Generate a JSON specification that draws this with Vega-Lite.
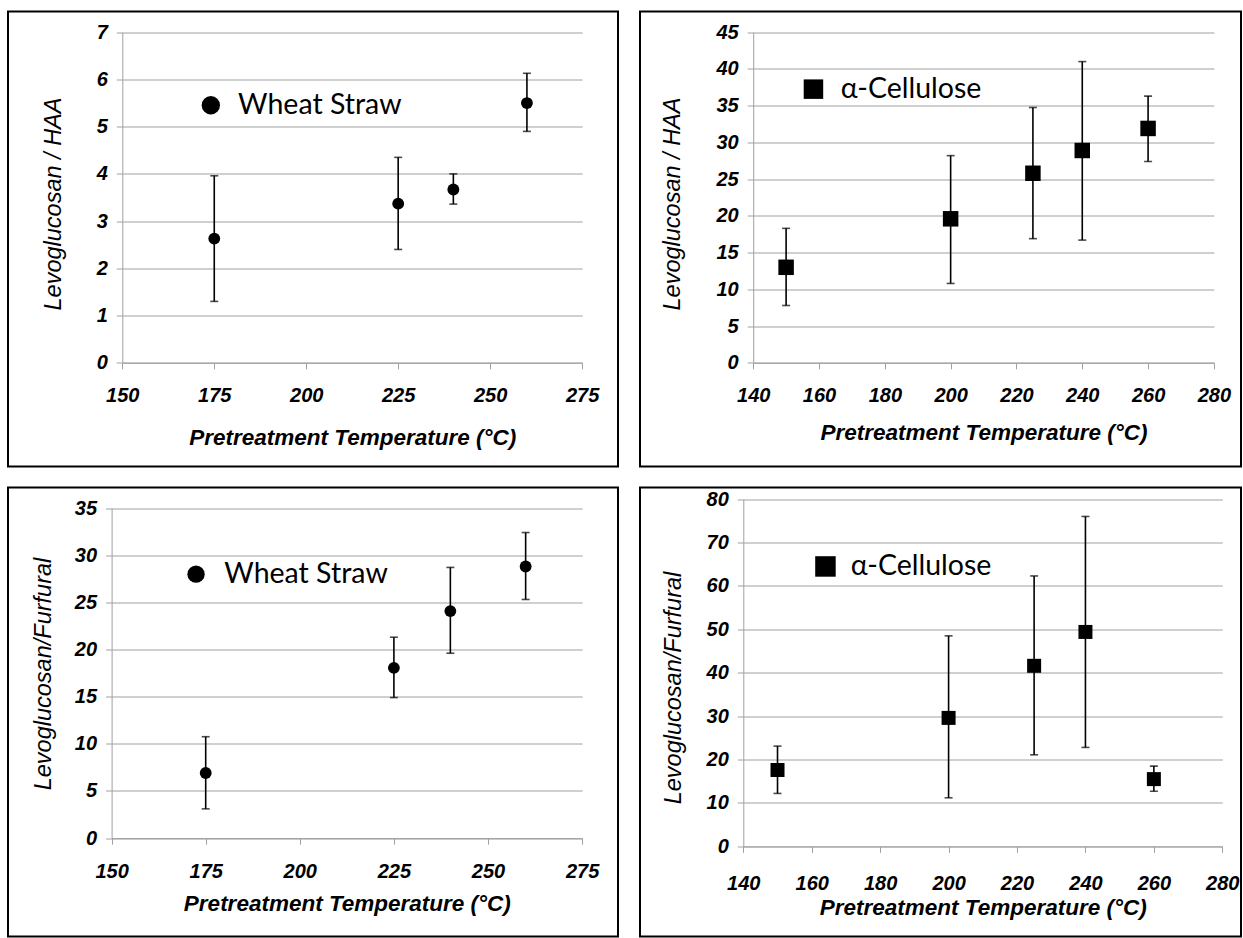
{
  "$schema": "https://vega.github.io/schema/vega-lite/v6.json",
  "padding": {"left": 7, "top": 10.5, "right": 0, "bottom": 0},
  "background": "white",
  "datasets": {
    "ws_haa": [
      {"temp": 175, "value": 2.63, "lo": 1.30, "hi": 3.96, "series": "Wheat Straw"},
      {"temp": 225, "value": 3.37, "lo": 2.40, "hi": 4.35, "series": "Wheat Straw"},
      {"temp": 240, "value": 3.67, "lo": 3.36, "hi": 4.00, "series": "Wheat Straw"},
      {"temp": 260, "value": 5.50, "lo": 4.90, "hi": 6.13, "series": "Wheat Straw"}
    ],
    "ac_haa": [
      {"temp": 150, "value": 13.0, "lo": 7.8, "hi": 18.3, "series": "α-Cellulose"},
      {"temp": 200, "value": 19.6, "lo": 10.8, "hi": 28.2, "series": "α-Cellulose"},
      {"temp": 225, "value": 25.8, "lo": 16.9, "hi": 34.75, "series": "α-Cellulose"},
      {"temp": 240, "value": 28.9, "lo": 16.7, "hi": 41.0, "series": "α-Cellulose"},
      {"temp": 260, "value": 31.9, "lo": 27.4, "hi": 36.3, "series": "α-Cellulose"}
    ],
    "ws_fur": [
      {"temp": 175, "value": 6.9, "lo": 3.1, "hi": 10.75, "series": "Wheat Straw"},
      {"temp": 225, "value": 18.05, "lo": 14.9, "hi": 21.3, "series": "Wheat Straw"},
      {"temp": 240, "value": 24.07, "lo": 19.6, "hi": 28.7, "series": "Wheat Straw"},
      {"temp": 260, "value": 28.8, "lo": 25.3, "hi": 32.4, "series": "Wheat Straw"}
    ],
    "ac_fur": [
      {"temp": 150, "value": 17.6, "lo": 12.2, "hi": 23.1, "series": "α-Cellulose"},
      {"temp": 200, "value": 29.6, "lo": 11.2, "hi": 48.5, "series": "α-Cellulose"},
      {"temp": 225, "value": 41.6, "lo": 21.1, "hi": 62.3, "series": "α-Cellulose"},
      {"temp": 240, "value": 49.4, "lo": 22.8, "hi": 76.0, "series": "α-Cellulose"},
      {"temp": 260, "value": 15.5, "lo": 12.7, "hi": 18.5, "series": "α-Cellulose"}
    ]
  },
  "columns": 2,
  "spacing": {"row": 21, "column": 22},
  "bounds": "flush",
  "resolve": {"scale": {"shape": "independent", "x": "independent", "y": "independent"}, "legend": {"shape": "independent"}},
  "concat": [
    {
      "width": 610, "height": 455,
      "data": {"name": "ws_haa"},
      "layer": [
        {
          "mark": {"type": "errorbar", "ticks": {"size": 8, "thickness": 1.6, "color": "black"}, "rule": {"strokeWidth": 1.6, "color": "black"}},
          "encoding": {
            "x": {"field": "temp", "type": "quantitative", "scale": {"domain": [150, 275], "range": [114.3, 574.1], "nice": false, "zero": false}, "axis": {"values": [150, 175, 200, 225, 250, 275], "offset": -103.7, "title": "Pretreatment Temperature (°C)", "titleY": 82, "titleBaseline": "alphabetic"}},
            "y": {"field": "lo", "type": "quantitative", "scale": {"domain": [0, 7], "range": [351.3, 20.7], "nice": false, "zero": false}, "axis": {"values": [0, 1, 2, 3, 4, 5, 6, 7], "offset": -114.3, "title": "Levoglucosan / HAA", "titlePadding": 31, "titleY": 192}},
            "y2": {"field": "hi"}
          }
        },
        {
          "mark": {"type": "point", "filled": true, "color": "black", "opacity": 1, "size": 140},
          "encoding": {
            "x": {"field": "temp", "type": "quantitative", "scale": {"domain": [150, 275], "range": [114.3, 574.1], "nice": false, "zero": false}, "axis": {"values": [150, 175, 200, 225, 250, 275], "offset": -103.7, "title": "Pretreatment Temperature (°C)", "titleY": 82, "titleBaseline": "alphabetic"}},
            "y": {"field": "value", "type": "quantitative", "scale": {"domain": [0, 7], "range": [351.3, 20.7], "nice": false, "zero": false}, "axis": {"values": [0, 1, 2, 3, 4, 5, 6, 7], "offset": -114.3, "title": "Levoglucosan / HAA", "titlePadding": 31, "titleY": 192}},
            "shape": {"field": "series", "type": "nominal", "scale": {"range": ["circle"]}, "legend": {"orient": "none", "legendX": 188.6, "legendY": 79.5, "title": null, "padding": 0, "symbolSize": 336, "symbolFillColor": "black", "symbolStrokeWidth": 0, "symbolOpacity": 1, "labelFont": "Lato", "labelFontSize": 28.5, "labelColor": "black", "labelOffset": 13, "labelLimit": 400}}
          }
        }
      ]
    },
    {
      "width": 601, "height": 455,
      "data": {"name": "ac_haa"},
      "layer": [
        {
          "mark": {"type": "errorbar", "ticks": {"size": 8, "thickness": 1.6, "color": "black"}, "rule": {"strokeWidth": 1.6, "color": "black"}},
          "encoding": {
            "x": {"field": "temp", "type": "quantitative", "scale": {"domain": [140, 280], "range": [113.2, 573.9], "nice": false, "zero": false}, "axis": {"values": [140, 160, 180, 200, 220, 240, 260, 280], "offset": -103.7, "title": "Pretreatment Temperature (°C)", "titleY": 77, "titleBaseline": "alphabetic"}},
            "y": {"field": "lo", "type": "quantitative", "scale": {"domain": [0, 45], "range": [351.3, 20.7], "nice": false, "zero": false}, "axis": {"values": [0, 5, 10, 15, 20, 25, 30, 35, 40, 45], "offset": -113.2, "title": "Levoglucosan / HAA", "titlePadding": 31, "titleY": 192}},
            "y2": {"field": "hi"}
          }
        },
        {
          "mark": {"type": "point", "filled": true, "color": "black", "opacity": 1, "size": 240},
          "encoding": {
            "x": {"field": "temp", "type": "quantitative", "scale": {"domain": [140, 280], "range": [113.2, 573.9], "nice": false, "zero": false}, "axis": {"values": [140, 160, 180, 200, 220, 240, 260, 280], "offset": -103.7, "title": "Pretreatment Temperature (°C)", "titleY": 77, "titleBaseline": "alphabetic"}},
            "y": {"field": "value", "type": "quantitative", "scale": {"domain": [0, 45], "range": [351.3, 20.7], "nice": false, "zero": false}, "axis": {"values": [0, 5, 10, 15, 20, 25, 30, 35, 40, 45], "offset": -113.2, "title": "Levoglucosan / HAA", "titlePadding": 31, "titleY": 192}},
            "shape": {"field": "series", "type": "nominal", "scale": {"range": ["square"]}, "legend": {"orient": "none", "legendX": 159.2, "legendY": 63.4, "title": null, "padding": 0, "symbolSize": 380, "symbolFillColor": "black", "symbolStrokeWidth": 0, "symbolOpacity": 1, "labelFont": "Lato", "labelFontSize": 28.5, "labelColor": "black", "labelOffset": 13, "labelLimit": 400}}
          }
        }
      ]
    },
    {
      "width": 610, "height": 449,
      "data": {"name": "ws_fur"},
      "layer": [
        {
          "mark": {"type": "errorbar", "ticks": {"size": 8, "thickness": 1.6, "color": "black"}, "rule": {"strokeWidth": 1.6, "color": "black"}},
          "encoding": {
            "x": {"field": "temp", "type": "quantitative", "scale": {"domain": [150, 275], "range": [103.6, 574.1], "nice": false, "zero": false}, "axis": {"values": [150, 175, 200, 225, 250, 275], "offset": -98.4, "title": "Pretreatment Temperature (°C)", "titleY": 72, "titleBaseline": "alphabetic", "labelPadding": 17.5}},
            "y": {"field": "lo", "type": "quantitative", "scale": {"domain": [0, 35], "range": [350.6, 20.5], "nice": false, "zero": false}, "axis": {"values": [0, 5, 10, 15, 20, 25, 30, 35], "offset": -103.6, "title": "Levoglucosan/Furfural", "titlePadding": 19, "titleY": 186}},
            "y2": {"field": "hi"}
          }
        },
        {
          "mark": {"type": "point", "filled": true, "color": "black", "opacity": 1, "size": 140},
          "encoding": {
            "x": {"field": "temp", "type": "quantitative", "scale": {"domain": [150, 275], "range": [103.6, 574.1], "nice": false, "zero": false}, "axis": {"values": [150, 175, 200, 225, 250, 275], "offset": -98.4, "title": "Pretreatment Temperature (°C)", "titleY": 72, "titleBaseline": "alphabetic", "labelPadding": 17.5}},
            "y": {"field": "value", "type": "quantitative", "scale": {"domain": [0, 35], "range": [350.6, 20.5], "nice": false, "zero": false}, "axis": {"values": [0, 5, 10, 15, 20, 25, 30, 35], "offset": -103.6, "title": "Levoglucosan/Furfural", "titlePadding": 19, "titleY": 186}},
            "shape": {"field": "series", "type": "nominal", "scale": {"range": ["circle"]}, "legend": {"orient": "none", "legendX": 173.8, "legendY": 72.4, "title": null, "padding": 0, "symbolSize": 300, "symbolFillColor": "black", "symbolStrokeWidth": 0, "symbolOpacity": 1, "labelFont": "Lato", "labelFontSize": 28.5, "labelColor": "black", "labelOffset": 14, "labelLimit": 400}}
          }
        }
      ]
    },
    {
      "width": 601, "height": 449,
      "data": {"name": "ac_fur"},
      "layer": [
        {
          "mark": {"type": "errorbar", "ticks": {"size": 8, "thickness": 1.6, "color": "black"}, "rule": {"strokeWidth": 1.6, "color": "black"}},
          "encoding": {
            "x": {"field": "temp", "type": "quantitative", "scale": {"domain": [140, 280], "range": [103.3, 582.3], "nice": false, "zero": false}, "axis": {"values": [140, 160, 180, 200, 220, 240, 260, 280], "offset": -90.1, "title": "Pretreatment Temperature (°C)", "titleY": 68.5, "titleBaseline": "alphabetic", "labelPadding": 21.5}},
            "y": {"field": "lo", "type": "quantitative", "scale": {"domain": [0, 80], "range": [358.9, 11.6], "nice": false, "zero": false}, "axis": {"values": [0, 10, 20, 30, 40, 50, 60, 70, 80], "offset": -103.3, "title": "Levoglucosan/Furfural", "titlePadding": 21, "titleY": 200}},
            "y2": {"field": "hi"}
          }
        },
        {
          "mark": {"type": "point", "filled": true, "color": "black", "opacity": 1, "size": 196},
          "encoding": {
            "x": {"field": "temp", "type": "quantitative", "scale": {"domain": [140, 280], "range": [103.3, 582.3], "nice": false, "zero": false}, "axis": {"values": [140, 160, 180, 200, 220, 240, 260, 280], "offset": -90.1, "title": "Pretreatment Temperature (°C)", "titleY": 68.5, "titleBaseline": "alphabetic", "labelPadding": 21.5}},
            "y": {"field": "value", "type": "quantitative", "scale": {"domain": [0, 80], "range": [358.9, 11.6], "nice": false, "zero": false}, "axis": {"values": [0, 10, 20, 30, 40, 50, 60, 70, 80], "offset": -103.3, "title": "Levoglucosan/Furfural", "titlePadding": 21, "titleY": 200}},
            "shape": {"field": "series", "type": "nominal", "scale": {"range": ["square"]}, "legend": {"orient": "none", "legendX": 171.2, "legendY": 64.7, "title": null, "padding": 0, "symbolSize": 420, "symbolFillColor": "black", "symbolStrokeWidth": 0, "symbolOpacity": 1, "labelFont": "Lato", "labelFontSize": 28.5, "labelColor": "black", "labelOffset": 11, "labelLimit": 400}}
          }
        }
      ]
    }
  ],
  "config": {
    "view": {"stroke": "black", "strokeWidth": 2},
    "axis": {"labelFont": "Liberation Sans", "labelFontSize": 20, "labelFontWeight": "bold", "labelFontStyle": "italic", "labelColor": "black", "titleFont": "Liberation Sans", "titleColor": "black", "titleFontStyle": "italic", "domainColor": "#a0a0a0", "domainWidth": 1, "tickColor": "#a0a0a0", "tickSize": 6, "tickWidth": 1, "gridColor": "#a0a0a0", "gridOpacity": 1, "gridWidth": 1, "labelOverlap": false, "labelFlush": false},
    "axisX": {"grid": false, "labelPadding": 16.5, "titleFontWeight": "bold", "titleFontSize": 22.5},
    "axisY": {"grid": true, "labelPadding": 9, "titleFontWeight": "normal", "titleFontSize": 23.5}
  }
}
